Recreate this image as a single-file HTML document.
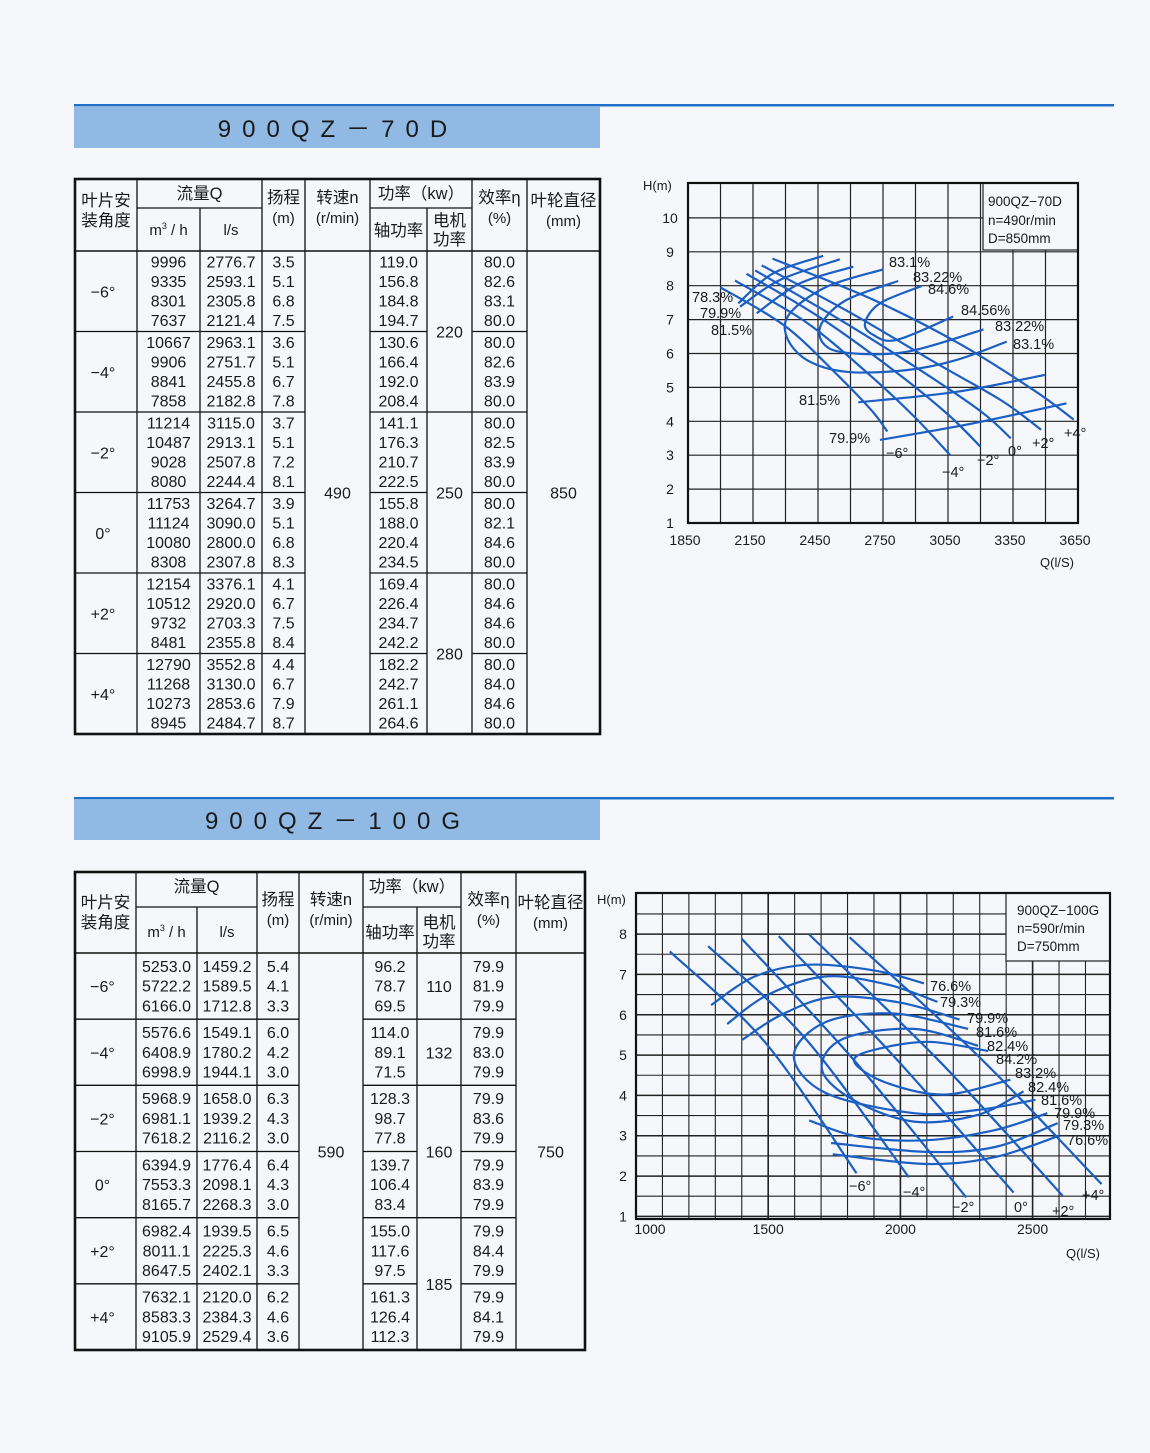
<!DOCTYPE html>
<html><head><meta charset="utf-8">
<style>
html,body{margin:0;padding:0;background:#f5f7fa;}
svg{display:block;}
text{font-family:"Liberation Sans","Noto Sans CJK SC",sans-serif;fill:#1a1a1a;}
</style></head>
<body>
<svg id="page" width="1150" height="1453" viewBox="0 0 1150 1453" xmlns="http://www.w3.org/2000/svg">
  <rect x="0" y="0" width="1150" height="1453" fill="#f5f7fa"/>
  <g>
    <rect x="74" y="104" width="1040" height="2.5" fill="#1f6fc6"/>
    <rect x="74" y="107" width="526" height="41" fill="#90b9e4"/>
    <text x="338" y="137" font-size="24" text-anchor="middle" letter-spacing="11">900QZ－70D</text>
  </g>
  <g>
    <rect x="74" y="797" width="1040" height="2.5" fill="#1f6fc6"/>
    <rect x="74" y="800" width="526" height="40" fill="#90b9e4"/>
    <text x="338" y="829" font-size="24" text-anchor="middle" letter-spacing="11">900QZ－100G</text>
  </g>
  <g id="tables"></g>
  <g id="chart1"></g>
  <g id="chart2"></g>
</svg>
<script>
// ===== Table data =====
const t1Angles = ["−6°","−4°","−2°","0°","+2°","+4°"];
const t1Qm3 = [["9996","9335","8301","7637"],["10667","9906","8841","7858"],["11214","10487","9028","8080"],["11753","11124","10080","8308"],["12154","10512","9732","8481"],["12790","11268","10273","8945"]];
const t1Qls = [["2776.7","2593.1","2305.8","2121.4"],["2963.1","2751.7","2455.8","2182.8"],["3115.0","2913.1","2507.8","2244.4"],["3264.7","3090.0","2800.0","2307.8"],["3376.1","2920.0","2703.3","2355.8"],["3552.8","3130.0","2853.6","2484.7"]];
const t1Head = [["3.5","5.1","6.8","7.5"],["3.6","5.1","6.7","7.8"],["3.7","5.1","7.2","8.1"],["3.9","5.1","6.8","8.3"],["4.1","6.7","7.5","8.4"],["4.4","6.7","7.9","8.7"]];
const t1Shaft = [["119.0","156.8","184.8","194.7"],["130.6","166.4","192.0","208.4"],["141.1","176.3","210.7","222.5"],["155.8","188.0","220.4","234.5"],["169.4","226.4","234.7","242.2"],["182.2","242.7","261.1","264.6"]];
const t1Eff = [["80.0","82.6","83.1","80.0"],["80.0","82.6","83.9","80.0"],["80.0","82.5","83.9","80.0"],["80.0","82.1","84.6","80.0"],["80.0","84.6","84.6","80.0"],["80.0","84.0","84.6","80.0"]];
const t1Motor = [["220",0,2],["250",2,4],["280",4,6]];
const t1Speed = "490", t1Dia = "850";

const t2Angles = ["−6°","−4°","−2°","0°","+2°","+4°"];
const t2Qm3 = [["5253.0","5722.2","6166.0"],["5576.6","6408.9","6998.9"],["5968.9","6981.1","7618.2"],["6394.9","7553.3","8165.7"],["6982.4","8011.1","8647.5"],["7632.1","8583.3","9105.9"]];
const t2Qls = [["1459.2","1589.5","1712.8"],["1549.1","1780.2","1944.1"],["1658.0","1939.2","2116.2"],["1776.4","2098.1","2268.3"],["1939.5","2225.3","2402.1"],["2120.0","2384.3","2529.4"]];
const t2Head = [["5.4","4.1","3.3"],["6.0","4.2","3.0"],["6.3","4.3","3.0"],["6.4","4.3","3.0"],["6.5","4.6","3.3"],["6.2","4.6","3.6"]];
const t2Shaft = [["96.2","78.7","69.5"],["114.0","89.1","71.5"],["128.3","98.7","77.8"],["139.7","106.4","83.4"],["155.0","117.6","97.5"],["161.3","126.4","112.3"]];
const t2Eff = [["79.9","81.9","79.9"],["79.9","83.0","79.9"],["79.9","83.6","79.9"],["79.9","83.9","79.9"],["79.9","84.4","79.9"],["79.9","84.1","79.9"]];
const t2Motor = [["110",0,1],["132",1,2],["160",2,4],["185",4,6]];
const t2Speed = "590", t2Dia = "750";

// ===== Chart 1 data (Q l/s, H m) =====
const c1XTicks = [1850,2150,2450,2750,3050,3350,3650];
const c1YTicks = [1,2,3,4,5,6,7,8,9,10];
const c1Blade_m6 = [[2000,7.95],[2300,6.8],[2550,5.3],[2700,4.3],[2770,3.7]];
const c1Blade_m4 = [[2067,8.15],[2400,6.9],[2700,5.3],[2900,4.1],[3060,3.0]];
const c1Blade_m2 = [[2120,8.35],[2450,7.1],[2800,5.5],[3050,4.2],[3200,3.25]];
const c1Blade_0 = [[2160,8.45],[2550,7.0],[2900,5.6],[3200,4.3],[3340,3.5]];
const c1Blade_p2 = [[2190,8.6],[2600,7.2],[3000,5.7],[3300,4.6],[3480,3.75]];
const c1Blade_p4 = [[2240,8.8],[2700,7.6],[3100,6.3],[3450,4.9],[3630,4.05]];
const c1Eff783 = [[2082,7.48],[2244,8.37],[2474,8.88]];
const c1Eff799 = [[2090,7.38],[2275,8.17],[2551,8.78]];
const c1Eff815top = [[2167,7.19],[2367,8.07],[2613,8.56]];
const c1Eff831 = [[2751,8.48],[2490,7.97],[2321,7.19],[2305,6.5],[2398,5.81],[2582,5.46],[2859,5.51],[3090,5.81],[3321,6.35]];
const c1Eff8322 = [[2820,8.14],[2582,7.58],[2467,6.89],[2474,6.3],[2582,6.02],[2859,6.05],[3214,6.71]];
const c1Eff846 = [[2928,7.99],[2736,7.48],[2667,6.89],[2705,6.55],[2813,6.4],[3074,7.09]];
const c1Eff815low = [[2636,4.56],[3090,4.87],[3497,5.37]];
const c1Eff799low = [[2736,3.45],[3167,3.94],[3597,4.53]];

// ===== Chart 2 data =====
const c2XTicks = [1000,1500,2000,2500];
const c2YTicks = [1,2,3,4,5,6,7,8];
const c2Blade_m6 = [[1128,7.57],[1488,5.32],[1834,2.07]];
const c2Blade_m4 = [[1273,7.7],[1642,5.4],[2032,1.97]];
const c2Blade_m2 = [[1399,7.89],[1821,4.9],[2249,1.47]];
const c2Blade_0 = [[1540,7.95],[1974,4.98],[2428,1.59]];
const c2Blade_p2 = [[1655,7.99],[2153,4.81],[2614,1.51]];
const c2Blade_p4 = [[1808,7.92],[2294,4.98],[2761,1.8]];
const c2Eff766top = [[1284,6.24],[1450,6.95],[1655,7.24],[1900,7.1],[2089,6.78]];
const c2Eff793top = [[1345,5.77],[1500,6.5],[1718,6.95],[1950,6.75],[2140,6.32]];
const c2Eff799top = [[1402,5.38],[1550,6.0],[1744,6.44],[2000,6.3],[2224,5.88]];
const c2Eff816 = [[2256,5.65],[1974,6.03],[1718,5.82],[1597,4.98],[1718,4.06],[2051,3.56],[2294,3.64],[2511,3.89]];
const c2Eff824 = [[2294,5.23],[2051,5.65],[1783,5.4],[1703,4.65],[1821,3.89],[2051,3.35],[2294,3.52],[2466,4.1]];
const c2Eff842 = [[2332,5.1],[2102,5.33],[1884,5.1],[1827,4.81],[1948,4.31],[2166,4.02],[2416,4.39]];
const c2Eff799low = [[1655,3.38],[1845,2.97],[2102,2.89],[2358,3.14],[2556,3.56]];
const c2Eff793low = [[1738,2.82],[2102,2.6],[2358,2.72],[2595,3.31]];
const c2Eff766low = [[1744,2.54],[2102,2.3],[2358,2.47],[2601,3.0]];

const NS = "http://www.w3.org/2000/svg";
function mk(tag, attrs, parent){ const e=document.createElementNS(NS,tag); for(const k in attrs) e.setAttribute(k,attrs[k]); parent.appendChild(e); return e; }
function txt(parent,x,y,s,size,anchor){ const t=mk("text",{x:x,y:y,"font-size":size,"text-anchor":anchor||"middle"},parent); t.textContent=s; return t; }
function line(parent,x1,y1,x2,y2,w,c){ return mk("line",{x1:x1,y1:y1,x2:x2,y2:y2,stroke:c||"#111","stroke-width":w||1.3},parent); }

// ===== Tables =====
function drawTable(g, cfg){
  const C = cfg.cols, top=cfg.top, sub=cfg.sub, hb=cfg.hb, bot=cfg.bot, n=cfg.angles.length;
  const gh = (bot-hb)/n;
  const hc = (a,b)=> (C[a]+C[b])/2;
  const hs = 16.5;
  let t;
  t=txt(g,hc(0,1),hb-45+cfg.hy,"叶片安",hs);  
  txt(g,hc(0,1),hb-25+cfg.hy,"装角度",hs);
  t=txt(g,hc(1,3),top+20,"流量Q",hs);  
  const m3=txt(g,hc(1,2),hb-16,"m",15); const sp=mk("tspan",{"font-size":9,dy:-6},m3); sp.textContent="3"; const sp2=mk("tspan",{dy:6},m3); sp2.textContent=" / h";
  txt(g,hc(2,3),hb-16,"l/s",15);
  t=txt(g,hc(3,4),hb-48,"扬程",hs);  
  txt(g,hc(3,4),hb-28,"(m)",15);
  t=txt(g,hc(4,5),hb-48,"转速n",hs);  
  txt(g,hc(4,5),hb-28,"(r/min)",15);
  t=txt(g,hc(5,7),top+20,"功率（kw）",hs);  
  txt(g,hc(5,6),hb-15,"轴功率",hs);
  txt(g,hc(6,7),hb-25,"电机",hs); txt(g,hc(6,7),hb-6,"功率",hs);
  t=txt(g,hc(7,8),hb-48,"效率η",hs);  
  txt(g,hc(7,8),hb-28,"(%)",15);
  t=txt(g,hc(8,9),hb-45+cfg.hy,"叶轮直径",hs);  
  txt(g,hc(8,9),hb-25+cfg.hy,"(mm)",15);
  line(g,C[1],sub,C[3],sub); line(g,C[5],sub,C[7],sub);
  line(g,C[0],hb,C[9],hb,1.6);
  [1,3,4,5,7,8].forEach(i=>line(g,C[i],top,C[i],bot));
  line(g,C[2],sub,C[2],bot); line(g,C[6],sub,C[6],bot);
  const rowH = cfg.rowH;
  for(let k=0;k<n;k++){
    const gy = hb + k*gh;
    if(k>0){ line(g,C[0],gy,C[4],gy); line(g,C[5],gy,C[6],gy); line(g,C[7],gy,C[8],gy); }
    const a=txt(g,hc(0,1)-3,gy+gh/2+6,cfg.angles[k],16);
     
    const rows = cfg.qm3[k].length;
    const y0 = gy + (gh-rows*rowH)/2;
    for(let r=0;r<rows;r++){
      const cy = y0 + rowH*(r+0.5) + 5.5;
      txt(g,hc(1,2),cy,cfg.qm3[k][r],16);
      txt(g,hc(2,3),cy,cfg.qls[k][r],16);
      txt(g,hc(3,4),cy,cfg.head[k][r],16);
      txt(g,hc(5,6),cy,cfg.shaft[k][r],16);
      txt(g,hc(7,8),cy,cfg.eff[k][r],16);
    }
  }
  cfg.motor.forEach(m=>{
    const y1=hb+m[1]*gh, y2=hb+m[2]*gh;
    if(m[1]>0) line(g,C[6],y1,C[7],y1);
    const mt=txt(g,hc(6,7),(y1+y2)/2+6,m[0],16);
     
  });
  const s=txt(g,hc(4,5),hb+(bot-hb)/2+6,cfg.speed,16);
   
  const d=txt(g,hc(8,9),hb+(bot-hb)/2+6,cfg.dia,16);
   
  mk("rect",{x:C[0],y:top,width:C[9]-C[0],height:bot-top,fill:"none",stroke:"#111","stroke-width":2.6},g);
}
const tg = document.getElementById("tables");
const tb1 = mk("g",{},tg);


drawTable(tb1,{cols:[75,137,200,262,305,370,427,472,527,600],top:179,sub:208,hb:251,bot:734,hy:0,rowH:19.6,
  angles:t1Angles,qm3:t1Qm3,qls:t1Qls,head:t1Head,shaft:t1Shaft,eff:t1Eff,motor:t1Motor,speed:t1Speed,dia:t1Dia});
const tb2 = mk("g",{},tg);


drawTable(tb2,{cols:[75,136,197,257,299,363,417,461,516,585],top:872,sub:907,hb:953,bot:1350,hy:0,rowH:19.7,
  angles:t2Angles,qm3:t2Qm3,qls:t2Qls,head:t2Head,shaft:t2Shaft,eff:t2Eff,motor:t2Motor,speed:t2Speed,dia:t2Dia});

// ===== Charts =====
function smoothPath(pts){
  if(pts.length<3){ return "M"+pts.map(p=>p[0].toFixed(1)+","+p[1].toFixed(1)).join(" L"); }
  let d="M"+pts[0][0].toFixed(1)+","+pts[0][1].toFixed(1);
  for(let i=0;i<pts.length-1;i++){
    const p0=pts[i-1]||pts[i], p1=pts[i], p2=pts[i+1], p3=pts[i+2]||p2;
    const c1=[p1[0]+(p2[0]-p0[0])/6, p1[1]+(p2[1]-p0[1])/6];
    const c2=[p2[0]-(p3[0]-p1[0])/6, p2[1]-(p3[1]-p1[1])/6];
    d+=" C"+c1[0].toFixed(1)+","+c1[1].toFixed(1)+" "+c2[0].toFixed(1)+","+c2[1].toFixed(1)+" "+p2[0].toFixed(1)+","+p2[1].toFixed(1);
  }
  return d;
}
const BLUE="#1b5fc4";

(function(){
  const g=document.getElementById("chart1");
  const L=688,R=1078,T=183,B=523;
  const xS=q=>L+(q-1850)*(R-L)/1800;
  const yS=h=>B-(h-1)*33.9;
  for(let q=2000;q<3650;q+=150) line(g,xS(q),T,xS(q),B,1.2,"#222");
  for(let h=2;h<=10;h++) line(g,L,yS(h),R,yS(h),1.2,"#222");
  mk("rect",{x:983,y:T,width:R-983,height:67,fill:"#f5f7fa",stroke:"#222","stroke-width":1.2},g);
  mk("rect",{x:L,y:T,width:R-L,height:B-T,fill:"none",stroke:"#111","stroke-width":2.2},g);
  c1XTicks.forEach(q=>{ const t=txt(g,xS(q)-3,545,String(q),14);   });
  c1YTicks.forEach(h=>{ const t=txt(g,670,yS(h)+5,String(h),14);   });
  let t=txt(g,643,190,"H(m)",13,"start");  
  t=txt(g,1040,567,"Q(l/S)",13,"start");  
  t=txt(g,988,206,"900QZ−70D",13.5,"start");  
  txt(g,988,225,"n=490r/min",13.5,"start");
  txt(g,988,243,"D=850mm",13.5,"start");
  const curves=[c1Blade_m6,c1Blade_m4,c1Blade_m2,c1Blade_0,c1Blade_p2,c1Blade_p4,c1Eff783,c1Eff799,c1Eff815top,c1Eff831,c1Eff8322,c1Eff846,c1Eff815low,c1Eff799low];
  const names=["blade-curve-minus6","blade-curve-minus4","blade-curve-minus2","blade-curve-0","blade-curve-plus2","blade-curve-plus4","eff-curve-78-3","eff-curve-79-9","eff-curve-81-5-top","eff-curve-83-1","eff-curve-83-22","eff-curve-84-6","eff-curve-81-5-low","eff-curve-79-9-low"];
  curves.forEach((c,i)=>{
    const p=mk("path",{d:smoothPath(c.map(v=>[xS(v[0]),yS(v[1])])),fill:"none",stroke:BLUE,"stroke-width":2.2},g);
    
    
  });
  const labels=[["78.3%",692,302],["79.9%",700,318],["81.5%",711,335],["83.1%",889,267],["83.22%",913,282],["84.6%",928,294],["84.56%",961,315],["83.22%",995,331],["83.1%",1013,349],["81.5%",799,405],["79.9%",829,443],["−6°",886,458],["−4°",942,477],["−2°",977,465],["0°",1008,456],["+2°",1032,448],["+4°",1064,438]];
  labels.forEach(l=>{ const t=txt(g,l[1],l[2],l[0],14.5,"start");   });
})();

(function(){
  const g=document.getElementById("chart2");
  const L=636,R=1110,T=893,B=1219;
  const xS=q=>L+(q-1000)*0.2644;
  const yS=h=>1216.4-(h-1)*40.33;
  for(let q=1100;q<2800;q+=100) line(g,xS(q),T,xS(q),B,q%500===0?1.6:1.1,"#222");
  for(let h=1;h<9;h+=0.5) line(g,L,yS(h),R,yS(h),h%1===0?1.5:1.1,"#222");
  mk("rect",{x:1006,y:T,width:R-1006,height:68,fill:"#f5f7fa",stroke:"#222","stroke-width":1.2},g);
  mk("rect",{x:L,y:T,width:R-L,height:B-T,fill:"none",stroke:"#111","stroke-width":2.2},g);
  c2XTicks.forEach(q=>{ const t=txt(g,xS(q)+(q===1000?14:0),1234,String(q),14);   });
  c2YTicks.forEach(h=>{ const t=txt(g,623,yS(h)+5,String(h),14);   });
  let t=txt(g,597,904,"H(m)",13,"start");  
  t=txt(g,1066,1258,"Q(l/S)",13,"start");  
  t=txt(g,1017,915,"900QZ−100G",13.5,"start");  
  txt(g,1017,933,"n=590r/min",13.5,"start");
  txt(g,1017,951,"D=750mm",13.5,"start");
  const curves=[c2Blade_m6,c2Blade_m4,c2Blade_m2,c2Blade_0,c2Blade_p2,c2Blade_p4,c2Eff766top,c2Eff793top,c2Eff799top,c2Eff816,c2Eff824,c2Eff842,c2Eff799low,c2Eff793low,c2Eff766low];
  const names=["blade-curve-minus6","blade-curve-minus4","blade-curve-minus2","blade-curve-0","blade-curve-plus2","blade-curve-plus4","eff-curve-76-6-top","eff-curve-79-3-top","eff-curve-79-9-top","eff-curve-81-6","eff-curve-82-4","eff-curve-84-2","eff-curve-79-9-low","eff-curve-79-3-low","eff-curve-76-6-low"];
  curves.forEach((c,i)=>{
    const p=mk("path",{d:smoothPath(c.map(v=>[xS(v[0]),yS(v[1])])),fill:"none",stroke:BLUE,"stroke-width":2.2},g);
    
    
  });
  const labels=[["76.6%",930,991],["79.3%",940,1007],["79.9%",967,1023],["81.6%",976,1037],["82.4%",987,1051],["84.2%",996,1064],["83.2%",1015,1078],["82.4%",1028,1092],["81.6%",1041,1105],["79.9%",1054,1118],["79.3%",1063,1130],["76.6%",1067,1145],["−6°",849,1191],["−4°",903,1197],["−2°",952,1212],["0°",1014,1212],["+2°",1052,1216],["+4°",1082,1200]];
  labels.forEach(l=>{ const t=txt(g,l[1],l[2],l[0],14.5,"start");   });
})();
</script>
</body></html>
